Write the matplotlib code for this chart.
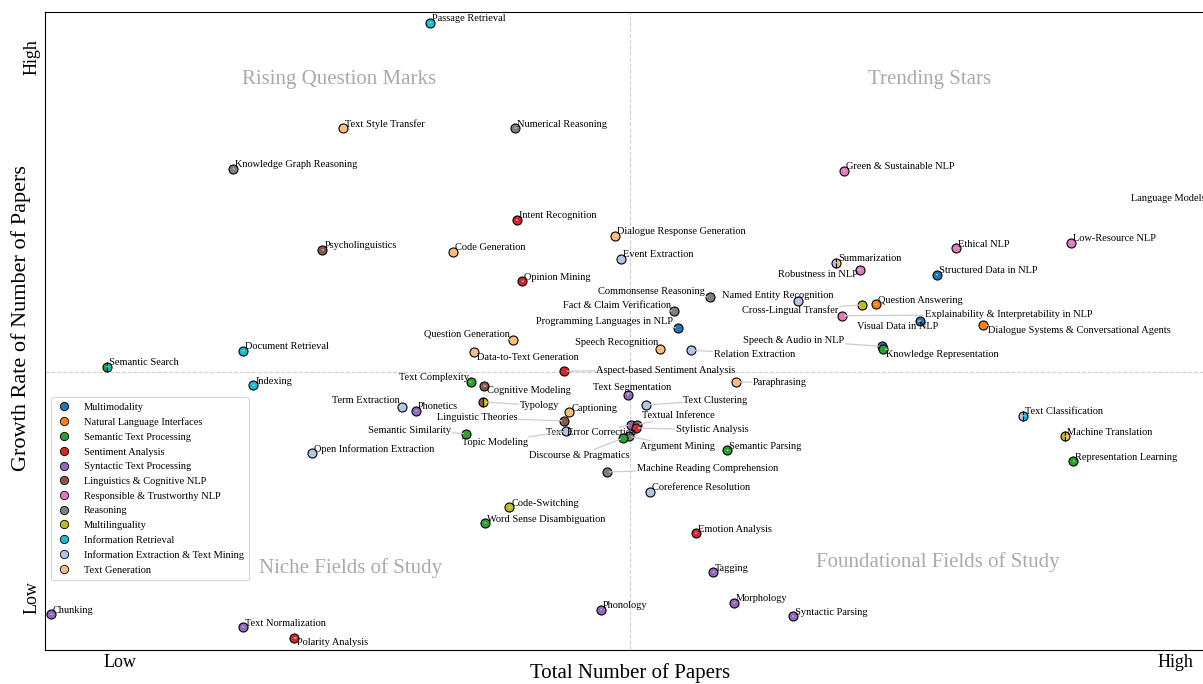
import matplotlib
matplotlib.use("Agg")
import matplotlib.pyplot as plt
from matplotlib.lines import Line2D

plt.rcParams['font.family'] = ['Liberation Serif', 'DejaVu Serif']

categories = ["Multimodality", "Natural Language Interfaces", "Semantic Text Processing",
              "Sentiment Analysis", "Syntactic Text Processing", "Linguistics & Cognitive NLP",
              "Responsible & Trustworthy NLP", "Reasoning", "Multilinguality",
              "Information Retrieval", "Information Extraction & Text Mining", "Text Generation"]
cat_colors = ["#1f77b4", "#ff7f0e", "#2ca02c", "#d62728", "#9467bd", "#8c564b",
              "#e377c2", "#7f7f7f", "#bcbd22", "#17becf", "#aec7e8", "#ffbb78"]

fields = ["Passage Retrieval", "Text Style Transfer", "Numerical Reasoning",
          "Knowledge Graph Reasoning", "Green & Sustainable NLP", "Language Models",
          "Intent Recognition", "Dialogue Response Generation", "Psycholinguistics",
          "Code Generation", "Event Extraction", "Ethical NLP", "Low-Resource NLP",
          "Summarization", "Robustness in NLP", "Structured Data in NLP", "Opinion Mining",
          "Commonsense Reasoning", "Named Entity Recognition", "Fact & Claim Verification",
          "Cross-Lingual Transfer", "Question Answering", "Programming Languages in NLP",
          "Explainability & Interpretability in NLP", "Visual Data in NLP",
          "Dialogue Systems & Conversational Agents", "Question Generation",
          "Document Retrieval", "Speech Recognition", "Relation Extraction",
          "Speech & Audio in NLP", "Knowledge Representation", "Data-to-Text Generation",
          "Semantic Search", "Aspect-based Sentiment Analysis", "Text Complexity",
          "Cognitive Modeling", "Indexing", "Paraphrasing", "Text Segmentation",
          "Term Extraction", "Phonetics", "Typology", "Captioning", "Text Clustering",
          "Linguistic Theories", "Text Error Correction", "Textual Inference",
          "Stylistic Analysis", "Argument Mining", "Discourse & Pragmatics",
          "Topic Modeling", "Semantic Similarity", "Open Information Extraction",
          "Semantic Parsing", "Machine Reading Comprehension", "Coreference Resolution",
          "Code-Switching", "Word Sense Disambiguation", "Emotion Analysis", "Tagging",
          "Morphology", "Phonology", "Syntactic Parsing", "Chunking", "Text Normalization",
          "Polarity Analysis", "Text Classification", "Machine Translation",
          "Representation Learning"]

total_papers = [32.9, 25.5, 40.2, 16.1, 68.3, 100.9, 40.3, 48.7, 23.7, 34.9, 49.2, 77.9, 87.7,
                67.6, 69.7, 76.2, 40.8, 56.8, 64.4, 53.8, 69.8, 71.0, 54.1, 68.1, 74.8, 80.2,
                40.0, 16.9, 52.6, 55.2, 71.5, 71.6, 36.7, 5.3, 44.4, 36.4, 37.5, 17.8, 59.1,
                49.8, 30.5, 31.7, 37.4, 44.8, 51.4, 44.4, 50.1, 50.6, 50.5, 49.9, 49.4, 44.5,
                36.0, 22.8, 58.3, 48.0, 51.7, 39.7, 37.6, 55.6, 57.1, 58.9, 47.5, 63.9, 0.5,
                16.9, 21.3, 83.6, 87.2, 87.9]

growth_rate = [98.3, 81.8, 81.8, 75.4, 75.1, 69.7, 67.4, 64.9, 62.7, 62.4, 61.3, 63.0, 63.8,
               60.7, 59.6, 58.8, 57.8, 55.3, 54.7, 53.1, 54.1, 54.2, 50.5, 52.4, 51.6, 50.9,
               48.6, 46.9, 47.2, 47.0, 47.6, 47.2, 46.7, 44.4, 43.7, 42.0, 41.4, 41.5, 42.0,
               40.0, 38.1, 37.5, 38.9, 37.3, 38.4, 35.9, 35.3, 35.3, 34.8, 33.5, 33.2, 34.3,
               33.9, 30.9, 31.3, 27.9, 24.8, 22.4, 19.9, 18.3, 12.2, 7.4, 6.3, 5.3, 5.6,
               3.6, 1.9, 36.7, 33.5, 29.6]

# primary category, secondary category (None if single)
field_cats = [("Information Retrieval", None), ("Text Generation", None), ("Reasoning", None),
              ("Reasoning", None), ("Responsible & Trustworthy NLP", None), ("Multimodality", None),
              ("Sentiment Analysis", None), ("Text Generation", None), ("Linguistics & Cognitive NLP", None),
              ("Text Generation", None), ("Information Extraction & Text Mining", None),
              ("Responsible & Trustworthy NLP", None), ("Responsible & Trustworthy NLP", None),
              ("Information Extraction & Text Mining", "Text Generation"),
              ("Responsible & Trustworthy NLP", None), ("Multimodality", None), ("Sentiment Analysis", None),
              ("Reasoning", None), ("Information Extraction & Text Mining", None), ("Reasoning", None),
              ("Multilinguality", None), ("Natural Language Interfaces", None), ("Multimodality", None),
              ("Responsible & Trustworthy NLP", None), ("Multimodality", None),
              ("Natural Language Interfaces", None), ("Text Generation", None),
              ("Information Retrieval", None), ("Text Generation", None),
              ("Information Extraction & Text Mining", None), ("Multimodality", None),
              ("Semantic Text Processing", None), ("Text Generation", None),
              ("Semantic Text Processing", "Information Retrieval"), ("Sentiment Analysis", None),
              ("Semantic Text Processing", None), ("Linguistics & Cognitive NLP", None),
              ("Information Retrieval", None), ("Text Generation", None),
              ("Syntactic Text Processing", None), ("Information Extraction & Text Mining", None),
              ("Syntactic Text Processing", None), ("Linguistics & Cognitive NLP", "Multilinguality"),
              ("Text Generation", None), ("Information Extraction & Text Mining", None),
              ("Linguistics & Cognitive NLP", None), ("Syntactic Text Processing", None),
              ("Reasoning", None), ("Sentiment Analysis", None), ("Reasoning", None),
              ("Semantic Text Processing", None), ("Information Extraction & Text Mining", None),
              ("Semantic Text Processing", None), ("Information Extraction & Text Mining", None),
              ("Semantic Text Processing", None), ("Reasoning", None),
              ("Information Extraction & Text Mining", None), ("Multilinguality", None),
              ("Semantic Text Processing", None), ("Sentiment Analysis", None),
              ("Syntactic Text Processing", None), ("Syntactic Text Processing", None),
              ("Syntactic Text Processing", None), ("Syntactic Text Processing", None),
              ("Syntactic Text Processing", None), ("Syntactic Text Processing", None),
              ("Sentiment Analysis", None), ("Information Extraction & Text Mining", "Information Retrieval"),
              ("Multilinguality", "Text Generation"), ("Semantic Text Processing", None)]

x_threshold = 50.0
y_threshold = 43.6

quadrants = ["Rising Question Marks", "Trending Stars", "Niche Fields of Study",
             "Foundational Fields of Study"]

# label placement (pixel offsets from the point, ha)
label_offsets = {
    "Language Models": (-95, 7, "left"),
    "Robustness in NLP": (-3, -5, "right"),
    "Commonsense Reasoning": (-5, 6, "right"),
    "Named Entity Recognition": (35, 6, "right"),
    "Fact & Claim Verification": (-3, 6, "right"),
    "Cross-Lingual Transfer": (-23, -5, "right"),
    "Programming Languages in NLP": (-5, 6, "right"),
    "Explainability & Interpretability in NLP": (83, 1, "left"),
    "Visual Data in NLP": (18, -6, "right"),
    "Dialogue Systems & Conversational Agents": (5, -5, "left"),
    "Question Generation": (-3, 6, "right"),
    "Speech Recognition": (-2, 6, "right"),
    "Relation Extraction": (23, -4, "left"),
    "Speech & Audio in NLP": (-37, 6, "right"),
    "Knowledge Representation": (3, -6, "left"),
    "Data-to-Text Generation": (3, -5, "left"),
    "Aspect-based Sentiment Analysis": (32, 1, "left"),
    "Text Complexity": (-2, 5, "right"),
    "Cognitive Modeling": (3, -5, "left"),
    "Paraphrasing": (16, 0, "left"),
    "Text Segmentation": (44, 7, "right"),
    "Term Extraction": (-2, 6, "right"),
    "Typology": (37, -4, "left"),
    "Text Clustering": (37, 5, "left"),
    "Linguistic Theories": (-47, 3, "right"),
    "Textual Inference": (5, 9, "left"),
    "Stylistic Analysis": (40, -2, "left"),
    "Text Error Correction": (5, -8, "right"),
    "Argument Mining": (11, -10, "left"),
    "Discourse & Pragmatics": (7, -17, "right"),
    "Topic Modeling": (-38, -11, "right"),
    "Semantic Similarity": (-15, 3, "right"),
    "Machine Reading Comprehension": (30, 3, "left"),
    "Polarity Analysis": (3, -5, "left"),
}

DPI = 100
fig = plt.figure(figsize=(12.03, 6.84), dpi=DPI)
ax = fig.add_axes([45 / 1203, 34 / 684, 1170 / 1203, 638 / 684])
ax.set_xlim(0, 100)
ax.set_ylim(0, 100)

cmap = dict(zip(categories, cat_colors))

ax.axvline(x_threshold, color="#d0d0d0", ls="--", lw=0.8, zorder=0)
ax.axhline(y_threshold, color="#d0d0d0", ls="--", lw=0.8, zorder=0)

for name, x, y, (c1, c2) in zip(fields, total_papers, growth_rate, field_cats):
    if c2 is None:
        ax.plot(x, y, "o", ms=6.5, mfc=cmap[c1], mec="black", mew=0.8, zorder=3)
    else:
        ax.plot(x, y, "o", ms=6.5, fillstyle="left", mfc=cmap[c1], mfcalt=cmap[c2],
                mec="black", mew=0.8, zorder=3)
    dx, dy, ha = label_offsets.get(name, (2, 4, "left"))
    ax.annotate(name, xy=(x, y), xytext=(dx, dy), textcoords="offset pixels",
                ha=ha, va="center", fontsize=7.5, zorder=4, annotation_clip=False,
                bbox=dict(boxstyle="square,pad=0.1", fc="none", ec="none"),
                arrowprops=dict(arrowstyle="-", color="#cccccc", lw=0.9,
                                shrinkA=0, shrinkB=2))

qcol = "#aaaaaa"
ax.text(25.1, 89.4, quadrants[0], ha="center", va="center", fontsize=15, color=qcol)
ax.text(75.6, 89.4, quadrants[1], ha="center", va="center", fontsize=15, color=qcol)
ax.text(26.1, 12.9, quadrants[2], ha="center", va="center", fontsize=15, color=qcol)
ax.text(76.3, 13.8, quadrants[3], ha="center", va="center", fontsize=15, color=qcol)

ax.set_xticks([6.4, 96.6])
ax.set_xticklabels(["Low", "High"], fontsize=13)
ax.set_yticks([8.2, 92.9])
ax.set_yticklabels(["Low", "High"], fontsize=13, rotation=90, va="center")
ax.tick_params(axis="y", length=0, pad=3)
ax.tick_params(axis="x", length=0, pad=3)
ax.set_xlabel("Total Number of Papers", fontsize=15)
ax.xaxis.set_label_coords(0.5, -0.021)
ax.set_ylabel("Growth Rate of Number of Papers", fontsize=16, va="center")
ax.yaxis.set_label_coords(-0.0205, 0.52)

handles = [Line2D([0], [0], marker="o", ls="", ms=6, mfc=c, mec="black", mew=0.6)
           for c in cat_colors]
leg = ax.legend(handles, categories, loc="lower left", bbox_to_anchor=(0.005, 0.11),
                borderaxespad=0, fontsize=7.5, frameon=True, labelspacing=0.52,
                handlelength=1.6, handletextpad=1.1, borderpad=0.5, fancybox=True)
leg.get_frame().set_edgecolor("#cccccc")
leg.get_frame().set_linewidth(0.8)

fig.savefig("out.png", dpi=DPI)
